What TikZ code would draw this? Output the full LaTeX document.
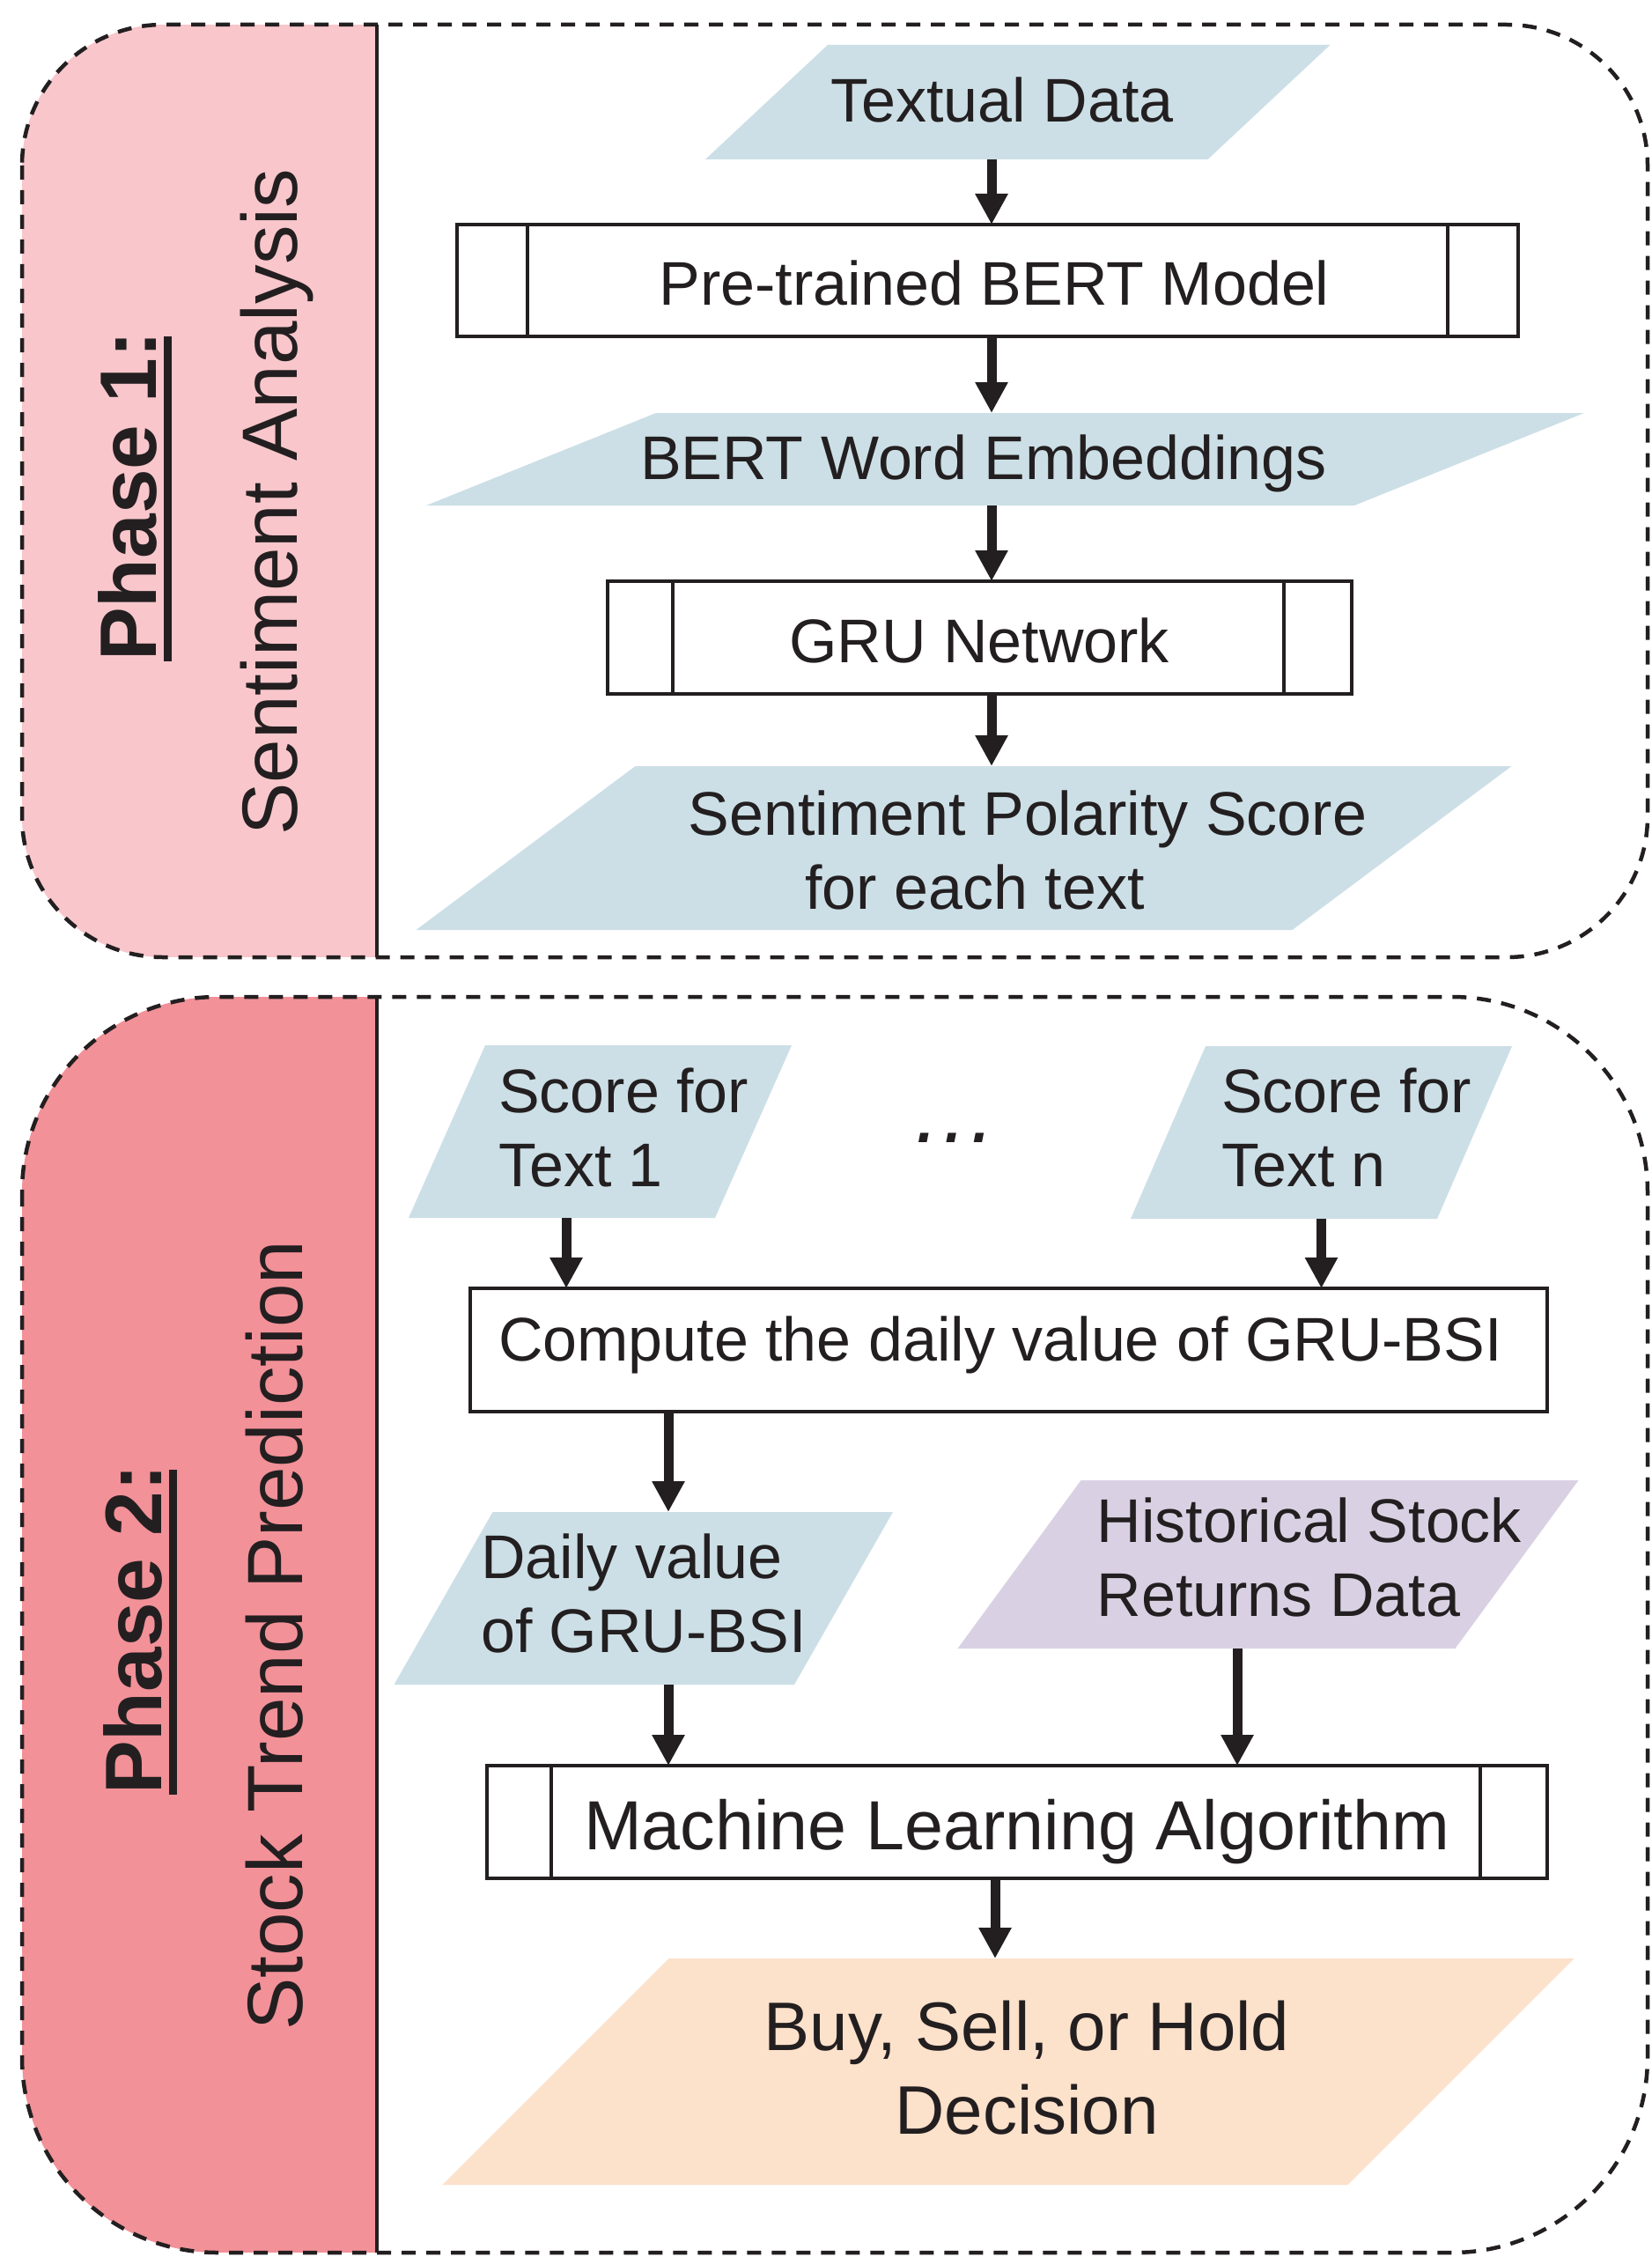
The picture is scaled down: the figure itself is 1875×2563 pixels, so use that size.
\documentclass[tikz,border=0pt]{standalone}
\usepackage{fontspec}
\setmainfont{Liberation Sans}
\usetikzlibrary{arrows.meta,calc}
\definecolor{ink}{HTML}{231F20}
\definecolor{pinkA}{HTML}{F8C6CB}
\definecolor{pinkB}{HTML}{F29198}
\definecolor{blueF}{HTML}{CCDFE6}
\definecolor{purpF}{HTML}{D9D1E3}
\definecolor{orngF}{HTML}{FCE1CB}
% name, cx, cy, mid width, height, slant, fill colour
\newcommand\mypara[7]{%
  \fill[#7] (#2-#4/2-#6/2, #3+#5/2) -- (#2-#4/2+#6/2, #3-#5/2) -- (#2+#4/2+#6/2, #3-#5/2) -- (#2+#4/2-#6/2, #3+#5/2) -- cycle;
  \node[anchorbox, minimum width=#4, minimum height=#5] (#1) at (#2,#3) {};
}
\begin{document}
\begin{tikzpicture}[x=1pt,y=-1pt,
  txt/.style={inner sep=0, text=ink, font=\fontsize{70}{84}\selectfont},
  txtL/.style={inner sep=0, text=ink, font=\fontsize{79}{95}\selectfont},
  phaselbl/.style={inner sep=0, text=ink, rotate=90, anchor=base west, font=\bfseries\fontsize{91}{100}\selectfont},
  phasename/.style={inner sep=0, text=ink, rotate=90, anchor=base west, font=\fontsize{89}{100}\selectfont},
  uline/.style={ink, line width=9},
  boxn/.style={draw=ink, line width=4, fill=white, inner sep=0, outer sep=0},
  anchorbox/.style={inner sep=0, outer sep=0},
  arr/.style={ink, line width=11, -{Triangle[length=35pt,width=35pt]}},
  dashborder/.style={ink, line width=4.5, dash pattern=on 16pt off 12pt},
  divider/.style={ink, line width=4}]
\fill[white] (0,0) rectangle (1875,2563);
\useasboundingbox (0,0) rectangle (1875,2563);

% ---------- Phase 1 frame ----------
\begin{scope}
  \clip[rounded corners=160] (25,28) rectangle (1871,1087);
  \fill[pinkA] (25,28) rectangle (428,1087);
\end{scope}
\draw[divider] (428,28) -- (428,1087);
\draw[dashborder, rounded corners=160] (25,28) rectangle (1871,1087);

% ---------- Phase 2 frame ----------
\begin{scope}
  \clip[rounded corners=222] (25,1132) rectangle (1871,2558);
  \fill[pinkB] (25,1132) rectangle (428,2558);
\end{scope}
\draw[divider] (428,1132) -- (428,2558);
\draw[dashborder, rounded corners=222] (25,1132) rectangle (1871,2558);

% ---------- side labels ----------
\node[phaselbl] (p1a) at (177,751) {Phase 1:};
\draw[uline] ([xshift=13.5pt]p1a.base west) -- ([xshift=13.5pt,yshift=-6pt]p1a.base east);
\node[phasename] (p1b) at (337,949) {Sentiment Analysis};
\node[phaselbl] (p2a) at (183,2038) {Phase 2:};
\draw[uline] ([xshift=13.5pt]p2a.base west) -- ([xshift=13.5pt,yshift=-6pt]p2a.base east);
\node[phasename] (p2b) at (343,2306) {Stock Trend Prediction};

% ---------- Phase 1 flow ----------
\coordinate (spine) at (1126,0);
\mypara{td}{1155.75}{116}{570.5}{130}{139}{blueF}
\node[txt, anchor=base] (tdT) at (1138,139) {Textual Data};

\node[boxn, minimum width=1205, minimum height=127] (bert) at (1121.5,318.5) {};
\draw[divider] ([xshift=80pt]bert.north west) -- ([xshift=80pt]bert.south west);
\draw[divider] ([xshift=-80pt]bert.north east) -- ([xshift=-80pt]bert.south east);
\node[txt, anchor=base] (bertT) at (1129,346) {Pre-trained BERT Model};

\mypara{emb}{1141.5}{521.5}{1054}{105}{261}{blueF}
\node[txt, anchor=base] (embT) at (1117,544) {BERT Word Embeddings};

\node[boxn, minimum width=845, minimum height=128] (gru) at (1112.5,724) {};
\draw[divider] ([xshift=74pt]gru.north west) -- ([xshift=74pt]gru.south west);
\draw[divider] ([xshift=-77pt]gru.north east) -- ([xshift=-77pt]gru.south east);
\node[txt, anchor=base] (gruT) at (1112,752) {GRU Network};

\mypara{sps}{1094.5}{963}{995}{186}{249}{blueF}
\node[txt, anchor=base, align=center] (spsT) at (1167,1032) {Sentiment Polarity Score\\\hspace*{-120pt}for each text};

\draw[arr] (td.south -| spine) -- (bert.north -| spine);
\draw[arr] (bert.south -| spine) -- (emb.north -| spine);
\draw[arr] (emb.south -| spine) -- (gru.north -| spine);
\draw[arr] (gru.south -| spine) -- (sps.north -| spine);

% ---------- Phase 2 flow ----------
\mypara{s1}{681.5}{1285}{348}{196}{87}{blueF}
\node[txt, anchor=base west, align=left] (s1T) at (566,1347) {Score for\\Text 1};
\mypara{sn}{1500.5}{1286}{348}{196}{85}{blueF}
\node[txt, anchor=base west, align=left] (snT) at (1387,1347) {Score for\\Text n};
\node[inner sep=0, text=ink, anchor=base, font=\itshape\fontsize{99}{100}\selectfont] (dots) at (1084,1297) {…};

\node[boxn, minimum width=1223, minimum height=140] (comp) at (1145.5,1533) {};
\node[txt, anchor=base] (compT) at (1136,1545) {Compute the daily value of GRU-BSI};

\mypara{dv}{730.75}{1815}{454.5}{196}{112}{blueF}
\node[txt, anchor=base west, align=left] (dvT) at (546,1876) {Daily value\\of GRU-BSI};
\mypara{hist}{1440}{1776.5}{565}{191}{140}{purpF}
\node[txt, anchor=base west, align=left] (histT) at (1245.5,1835) {Historical Stock\\Returns Data};

\node[boxn, minimum width=1204, minimum height=128] (ml) at (1155,2069) {};
\draw[divider] ([xshift=73pt]ml.north west) -- ([xshift=73pt]ml.south west);
\draw[divider] ([xshift=-76pt]ml.north east) -- ([xshift=-76pt]ml.south east);
\node[txtL, anchor=base] (mlT) at (1155,2100) {Machine Learning Algorithm};

\mypara{dec}{1145}{2352.5}{1028}{257}{257}{orngF}
\node[txt, anchor=base, align=center, font=\fontsize{78}{95}\selectfont] (decT) at (1166,2423) {Buy, Sell, or Hold\\Decision};

\coordinate (c1) at (643,0);
\coordinate (c2) at (759,0);
\coordinate (c3) at (1405,0);
\coordinate (c4) at (1130,0);
\draw[arr] (s1.south -| c1) -- (comp.north -| c1);
\draw[arr] (sn.south) -- (sn.south |- comp.north);
\draw[arr] (comp.south -| c2) -- (dv.north -| c2);
\draw[arr] (dv.south -| c2) -- (ml.north -| c2);
\draw[arr] (hist.south -| c3) -- (ml.north -| c3);
\draw[arr] (ml.south -| c4) -- (dec.north -| c4);
\end{tikzpicture}
\end{document}
